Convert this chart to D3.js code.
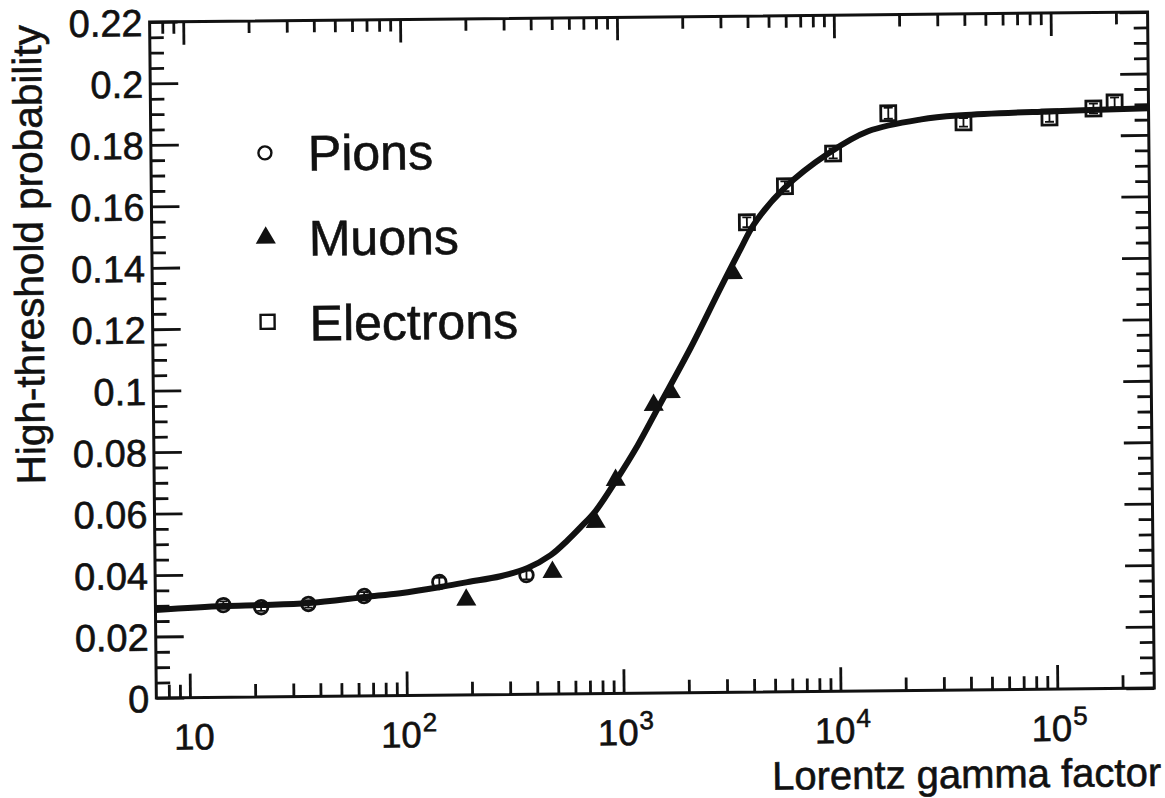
<!DOCTYPE html>
<html>
<head>
<meta charset="utf-8">
<script src="https://cdn.jsdelivr.net/npm/d3@7"></script>
<style>
  html, body { margin: 0; padding: 0; background: #ffffff; }
  svg { display: block; }
  text { font-family: "Liberation Sans", Arial, Helvetica, sans-serif; fill: #111; stroke: #111; stroke-width: 0.6px; }
</style>
</head>
<body>
<svg id="chart" width="1165" height="798"></svg>
<script>
// ---- measured high-threshold probabilities vs Lorentz gamma factor ----
const pionGamma = [14.4, 21.5, 35.5, 64.3, 143, 361];
const pionProb  = [0.0300, 0.0292, 0.0301, 0.0325, 0.0368, 0.0388];
const pionErr   = [0.0012, 0.0012, 0.0012, 0.0013, 0.0014, 0.0014];

const muonGamma = [190, 476, 757, 940, 1419, 1702, 3335];
const muonProb  = [0.0309, 0.0397, 0.0558, 0.0694, 0.0937, 0.0978, 0.1363];

const electronGamma = [3890, 5850, 9790, 17660, 39200, 97700, 156000, 195500];
const electronProb  = [0.1529, 0.1645, 0.1750, 0.1879, 0.1847, 0.1860, 0.1888, 0.1907];
const electronErr   = [0.0016, 0.0016, 0.0016, 0.0018, 0.0014, 0.0014, 0.0016, 0.0016];

// fitted turn-on curve, sampled along its length
const fitGamma = [7, 14.4, 21.7, 35.8, 65, 94.4, 144.5, 192.8, 274, 365.6, 467.7, 561, 644.6,
                  756.6, 940, 1193, 1483, 2120, 2931, 3640, 4190, 5795, 9290, 14230, 25060,
                  38400, 96800, 280000];
const fitProb  = [0.0286, 0.0297, 0.0299, 0.0304, 0.0322, 0.0333, 0.0352, 0.0367, 0.0385, 0.0411,
                  0.0452, 0.0500, 0.0542, 0.0594, 0.0691, 0.0807, 0.0927, 0.1124, 0.1318, 0.1444,
                  0.1522, 0.1638, 0.1750, 0.1821, 0.1858, 0.1870, 0.1880, 0.1887];

// axis ticks and labels
const yTickValues = [0, 0.02, 0.04, 0.06, 0.08, 0.1, 0.12, 0.14, 0.16, 0.18, 0.2, 0.22];
const yTickLabels = ["0", "0.02", "0.04", "0.06", "0.08", "0.1", "0.12", "0.14", "0.16", "0.18", "0.2", "0.22"];
const xMajorTicks = [10, 100, 1000, 10000, 100000];
const xTickBase = ["10", "10", "10", "10", "10"];
const xTickExp  = ["", "2", "3", "4", "5"];

const legendNames = ["Pions", "Muons", "Electrons"];
const xTitle = "Lorentz gamma factor";
const yTitle = "High-threshold probability";

// ---- layout ----
const W = 1165, H = 798;
const plotLeft = 153, plotRight = 1151, plotTop = 17, plotBottom = 693;
const ink = "#111";

const svg = d3.select("#chart");
svg.append("rect").attr("width", W).attr("height", H).attr("fill", "#fff");

// whole page sits slightly tilted
const root = svg.append("g").attr("transform", "rotate(-0.57, 653, 360)");

const x = d3.scaleLog().domain([7, 2.8e5]).range([plotLeft, plotRight]);
const y = d3.scaleLinear().domain([0, 0.22]).range([plotBottom, plotTop]);

// minor ticks
const [xmin, xmax] = x.domain();
const xMinor = [];
for (let e = 0; e <= 5; e++) {
  for (let k = 2; k <= 9; k++) {
    const v = k * Math.pow(10, e);
    if (v > xmin * 1.01 && v < xmax * 0.99) xMinor.push(v);
  }
}
const yMinor = d3.range(0, 0.2201, 0.005).filter(v => !yTickValues.some(t => Math.abs(t - v) < 1e-6));

function styleAxis(g) {
  g.select(".domain").remove();
  g.selectAll("line").attr("stroke", ink).attr("stroke-width", 2.8);
}

// bottom
root.append("g").attr("transform", `translate(0,${plotBottom})`)
  .call(d3.axisBottom(x).tickValues(xMinor).tickSize(-13).tickFormat(""))
  .call(styleAxis);
root.append("g").attr("transform", `translate(0,${plotBottom})`)
  .call(d3.axisBottom(x).tickValues(xMajorTicks).tickSize(-24).tickFormat(""))
  .call(styleAxis);
// top
root.append("g").attr("transform", `translate(0,${plotTop})`)
  .call(d3.axisTop(x).tickValues(xMinor).tickSize(-12).tickFormat(""))
  .call(styleAxis);
root.append("g").attr("transform", `translate(0,${plotTop})`)
  .call(d3.axisTop(x).tickValues(xMajorTicks).tickSize(-23).tickFormat(""))
  .call(styleAxis);
// left
root.append("g").attr("transform", `translate(${plotLeft},0)`)
  .call(d3.axisLeft(y).tickValues(yMinor).tickSize(-14).tickFormat(""))
  .call(styleAxis);
const yAxis = root.append("g").attr("transform", `translate(${plotLeft},0)`)
  .call(d3.axisLeft(y).tickValues(yTickValues).tickSize(-28)
        .tickFormat((d, i) => yTickLabels[i]))
  .call(styleAxis);
yAxis.attr("font-family", null).attr("font-size", null);
yAxis.selectAll("text")
  .attr("x", -7).attr("dy", "0.36em")
  .attr("font-size", 38).attr("fill", ink)
  .attr("text-anchor", "end");
// right
root.append("g").attr("transform", `translate(${plotRight},0)`)
  .call(d3.axisRight(y).tickValues(yMinor).tickSize(-14).tickFormat(""))
  .call(styleAxis);
root.append("g").attr("transform", `translate(${plotRight},0)`)
  .call(d3.axisRight(y).tickValues(yTickValues).tickSize(-28).tickFormat(""))
  .call(styleAxis);

// x tick labels with superscript exponents
xMajorTicks.forEach((v, i) => {
  const t = root.append("text")
    .attr("x", x(v) + (xTickExp[i] ? 2 : 4))
    .attr("y", plotBottom + 52)
    .attr("text-anchor", "middle")
    .attr("font-size", 36.5);
  t.append("tspan").text(xTickBase[i]);
  if (xTickExp[i]) {
    t.append("tspan").attr("font-size", 26).attr("dy", -16).attr("dx", 1).text(xTickExp[i]);
  }
});

// frame
root.append("rect")
  .attr("x", plotLeft).attr("y", plotTop)
  .attr("width", plotRight - plotLeft).attr("height", plotBottom - plotTop)
  .attr("fill", "none").attr("stroke", ink).attr("stroke-width", 3);

// axis titles
root.append("text")
  .attr("x", plotRight + 6).attr("y", plotBottom + 98)
  .attr("text-anchor", "end").attr("font-size", 40)
  .text(xTitle);
root.append("text")
  .attr("transform", `translate(44,${plotTop + 2}) rotate(-90)`)
  .attr("text-anchor", "end").attr("font-size", 40.5)
  .text(yTitle);

// fitted curve
const fitLine = d3.line()
  .x((d, i) => x(fitGamma[i]))
  .y((d, i) => y(fitProb[i]))
  .curve(d3.curveCatmullRom.alpha(0.5));
const clip = svg.append("defs").append("clipPath").attr("id", "plotclip");
clip.append("rect").attr("x", plotLeft).attr("y", plotTop)
  .attr("width", plotRight - plotLeft).attr("height", plotBottom - plotTop);
root.append("path")
  .datum(fitProb)
  .attr("d", fitLine)
  .attr("clip-path", "url(#plotclip)")
  .attr("fill", "none").attr("stroke", ink)
  .attr("stroke-width", 6).attr("stroke-linecap", "round");

// error bars
function drawErrors(gam, prob, err, capW) {
  const g = root.append("g").attr("stroke", ink).attr("stroke-width", 1.8);
  gam.forEach((gv, i) => {
    const cx = x(gv), y1 = y(prob[i] - err[i]), y2 = y(prob[i] + err[i]);
    g.append("line").attr("x1", cx).attr("x2", cx).attr("y1", y1).attr("y2", y2);
    g.append("line").attr("x1", cx - capW).attr("x2", cx + capW).attr("y1", y1).attr("y2", y1);
    g.append("line").attr("x1", cx - capW).attr("x2", cx + capW).attr("y1", y2).attr("y2", y2);
  });
}
drawErrors(pionGamma, pionProb, pionErr, 4);
drawErrors(electronGamma, electronProb, electronErr, 4.5);

// markers
const triangle = d3.symbol().type(d3.symbolTriangle).size(175);

root.append("g").selectAll("circle")
  .data(pionProb).join("circle")
  .attr("cx", (d, i) => x(pionGamma[i]))
  .attr("cy", d => y(d))
  .attr("r", 6.8)
  .attr("fill", "none").attr("stroke", ink).attr("stroke-width", 2.8);

root.append("g").selectAll("path")
  .data(muonProb).join("path")
  .attr("d", triangle)
  .attr("transform", (d, i) => `translate(${x(muonGamma[i])},${y(d)})`)
  .attr("fill", ink);

root.append("g").selectAll("rect")
  .data(electronProb).join("rect")
  .attr("x", (d, i) => x(electronGamma[i]) - 7.5)
  .attr("y", d => y(d) - 7.5)
  .attr("width", 15).attr("height", 15)
  .attr("fill", "none").attr("stroke", ink).attr("stroke-width", 2.8);

// legend
const legend = root.append("g");
const legendRows = [
  { mx: 267, my: 149, ty: 167 },
  { mx: 267, my: 234, ty: 252 },
  { mx: 268, my: 318, ty: 337 }
];
legendRows.forEach((r, i) => {
  if (i === 0) {
    legend.append("circle").attr("cx", r.mx).attr("cy", r.my).attr("r", 6.5)
      .attr("fill", "none").attr("stroke", ink).attr("stroke-width", 2.4);
  } else if (i === 1) {
    legend.append("path").attr("d", triangle)
      .attr("transform", `translate(${r.mx},${r.my})`).attr("fill", ink);
  } else {
    legend.append("rect").attr("x", r.mx - 7).attr("y", r.my - 7)
      .attr("width", 14).attr("height", 14)
      .attr("fill", "none").attr("stroke", ink).attr("stroke-width", 2.4);
  }
  legend.append("text").attr("x", 310).attr("y", r.ty)
    .attr("font-size", 50).text(legendNames[i]);
});
</script>
</body>
</html>
